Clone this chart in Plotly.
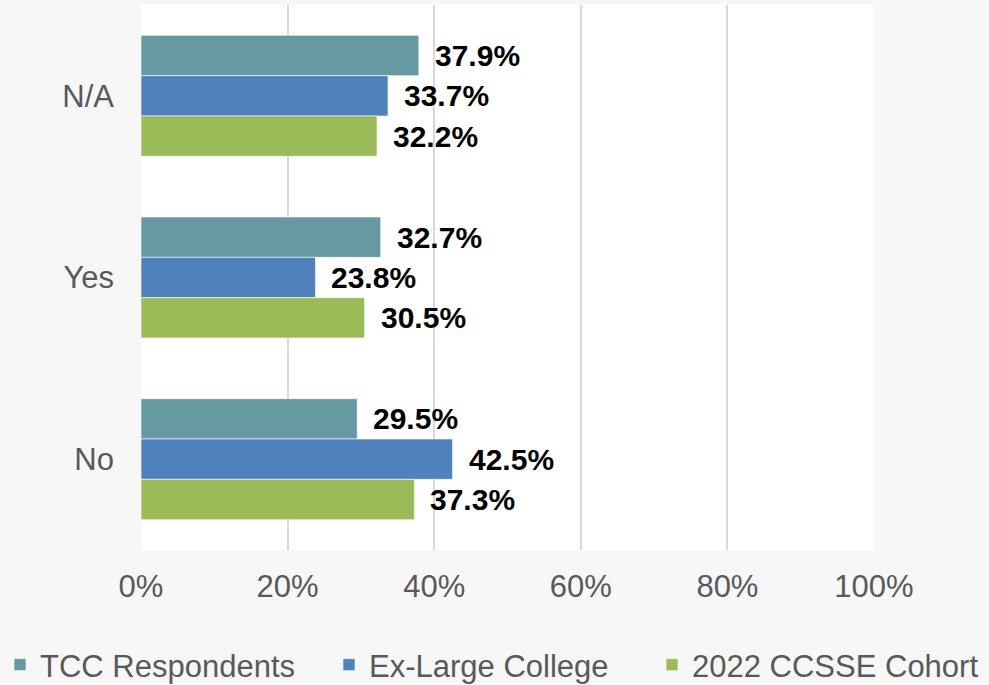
import plotly.graph_objects as go

categories = ["N/A", "Yes", "No"]
series_names = ["TCC Respondents", "Ex-Large College", "2022 CCSSE Cohort"]
tcc_values = [37.9, 32.7, 29.5]
exlarge_values = [33.7, 23.8, 42.5]
ccsse_values = [32.2, 30.5, 37.3]
series_values = [tcc_values, exlarge_values, ccsse_values]
colors = ["#6699A1", "#4F81BD", "#9BBB59"]
x_ticks = [0, 20, 40, 60, 80, 100]
x_tick_labels = ["0%", "20%", "40%", "60%", "80%", "100%"]

FONT = "Liberation Sans, Arial, sans-serif"
BARGAP = 0.334
W, H = 989, 685

legend_ids = ["legend", "legend2", "legend3"]
legend_left_px = [0, 329, 652]

fig = go.Figure()
for name, vals, col, lg in zip(series_names, series_values, colors, legend_ids):
    fig.add_trace(go.Bar(
        y=categories, x=vals, name=name, orientation="h", legend=lg,
        marker=dict(color=col, line=dict(color="rgba(255,255,255,0.6)", width=1)),
    ))

# value labels placed just right of each bar end
n = len(series_names)
w = (1 - BARGAP) / n
for i, vals in enumerate(series_values):
    for j, v in enumerate(vals):
        fig.add_annotation(
            x=v, y=j + (i - (n - 1) / 2) * w, xref="x", yref="y",
            text="<b>%.1f%%</b>" % v, showarrow=False,
            xanchor="left", yanchor="middle", xshift=14,
            font=dict(family=FONT, size=30, color="#000000"),
        )

legend_common = dict(
    orientation="h", xref="container", yref="container",
    xanchor="left", y=(H - 665) / H, yanchor="middle",
    font=dict(family=FONT, size=31, color="#595959"),
    bgcolor="rgba(0,0,0,0)", itemclick=False, itemdoubleclick=False,
)

fig.update_layout(
    width=W, height=H,
    margin=dict(l=141, r=115, t=5, b=135),
    paper_bgcolor="#F7F7F7", plot_bgcolor="#FFFFFF",
    barmode="group", bargap=BARGAP, bargroupgap=0,
    font=dict(family=FONT, size=31, color="#595959"),
    showlegend=True,
    legend=dict(x=legend_left_px[0] / W, **legend_common),
    legend2=dict(x=legend_left_px[1] / W, **legend_common),
    legend3=dict(x=legend_left_px[2] / W, **legend_common),
    xaxis=dict(
        range=[0, 100], tickvals=x_ticks, ticktext=x_tick_labels,
        showgrid=True, gridcolor="#D9D9D9", gridwidth=2,
        zeroline=False, showline=False, ticks="",
        ticklabelstandoff=15,
        tickfont=dict(family=FONT, size=31, color="#595959"),
    ),
    yaxis=dict(
        type="category", autorange="reversed",
        showgrid=False, zeroline=False, showline=False, ticks="",
        ticklabelstandoff=26,
        tickfont=dict(family=FONT, size=31, color="#595959"),
    ),
)

fig.write_html(
    "out.html",
    config={"displayModeBar": False},
    post_script="document.body.style.margin='0';document.body.style.padding='0';",
)
